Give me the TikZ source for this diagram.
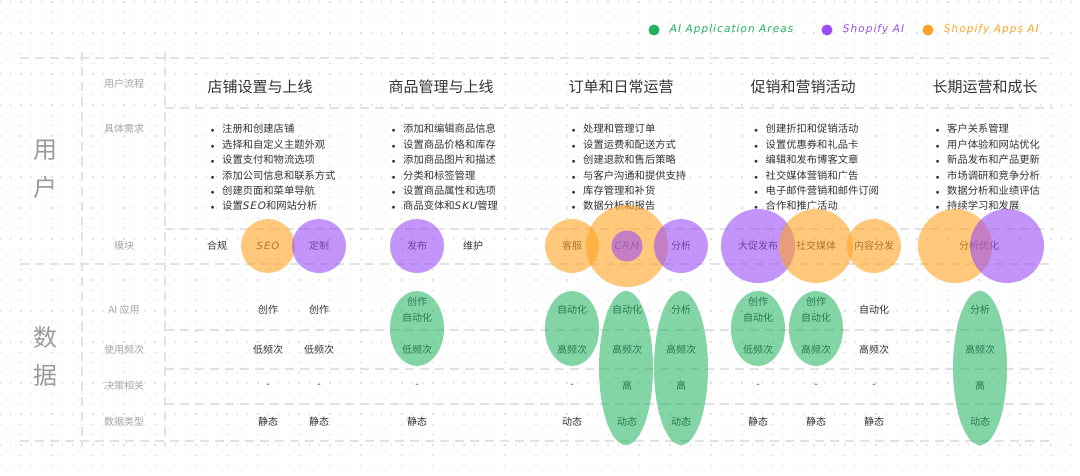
\documentclass[tikz,border=0pt]{standalone}
\usepackage{fontspec}
\setmainfont{Noto Sans CJK SC}
\newfontfamily\handfont[LetterSpace=10]{DejaVu Sans}
\usetikzlibrary{positioning,shapes.geometric}
\definecolor{DotGray}{RGB}{222,222,222}
\definecolor{GridGray}{RGB}{226,226,226}
\definecolor{LabelGray}{RGB}{165,165,165}
\definecolor{SideGray}{RGB}{155,155,155}
\definecolor{InkGray}{RGB}{51,51,51}
\definecolor{AppGreen}{RGB}{31,179,94}
\definecolor{ShopPurple}{RGB}{155,77,245}
\definecolor{AppsOrange}{RGB}{255,164,36}
\newcommand\bitem{\makebox[11.5pt][l]{$\scriptstyle\bullet$}}
\newcommand\hand[1]{{\handfont\itshape #1}}

\begin{document}
\begin{tikzpicture}[
	x=1pt,y=-1pt,
	dotrow/.style={draw=DotGray,line width=1.3pt,dash pattern=on 1.3pt off 9pt,dash phase=0.3pt},
	gridline/.style={draw=GridGray,line width=1.6pt,dash pattern=on 9pt off 6pt},
	rowlabel/.style={text=LabelGray,font=\fontsize{10}{12}\selectfont,inner sep=0pt},
	sidelabel/.style={text=SideGray,font=\fontsize{24}{38}\selectfont,align=center,inner sep=0pt},
	stage/.style={text=InkGray,font=\fontsize{15}{18}\selectfont,inner sep=0pt},
	needs/.style={text=InkGray,font=\fontsize{10.3}{15.4}\selectfont,align=left,anchor=north west,inner sep=0pt},
	cell/.style={text=InkGray,font=\fontsize{10}{16}\selectfont,align=center,inner sep=0pt},
	legend/.style={font=\fontsize{10.5}{12}\selectfont\handfont\itshape,inner sep=0pt},
	legenddot/.style={circle,minimum size=11pt,inner sep=0pt},
	shopify/.style={circle,fill=ShopPurple,fill opacity=.6,inner sep=0pt},
	apps/.style={circle,fill=AppsOrange,fill opacity=.6,inner sep=0pt},
	aiarea/.style={ellipse,fill=AppGreen,fill opacity=.55,inner sep=0pt,minimum width=54pt}
	]
				
				\useasboundingbox (0,0) rectangle (1080,475);
				\fill[white] (0,0) rectangle (1080,475);
				
				% dotted paper
				\foreach \j in {0,...,45}
				\draw[dotrow] (0,2+10.3*\j) -- (1080,2+10.3*\j);
				
				% table rulings
				\draw[gridline] (20,58) -- (1053,58);
				\draw[gridline] (165,108) -- (1053,108);
				\draw[gridline] (165,229) -- (1053,229);
				\draw[gridline] (20,264) -- (1053,264);
				\draw[gridline] (165,330) -- (1053,330);
				\draw[gridline] (165,369) -- (1053,369);
				\draw[gridline] (165,404) -- (1053,404);
				\draw[gridline] (20,441) -- (1053,441);
				\draw[gridline] (82,52) -- (82,447);
				\draw[gridline] (165,52) -- (165,447);
				
				% legend
				\node[legenddot,fill=AppGreen] (gdot) at (654,30) {};
				\node[legend,text=AppGreen,right=10pt of gdot] (gtext) {AI Application Areas};
				\node[legenddot,fill=ShopPurple] (pdot) at (827,30) {};
				\node[legend,text=ShopPurple,right=10pt of pdot] (ptext) {Shopify AI};
				\node[legenddot,fill=AppsOrange] (odot) at (928,30) {};
				\node[legend,text=AppsOrange,right=10pt of odot] (otext) {Shopify Apps AI};
				
				% side and row labels
				\node[sidelabel] (user) at (46,169) {用\\户};
				\node[sidelabel] (data) at (46,356) {数\\据};
				\node[rowlabel] (flow) at (124,84) {用户流程};
				\node[rowlabel] (need) at (124,129) {具体需求};
				\node[rowlabel] (module) at (124,246) {模块};
				\node[rowlabel] (aiuse) at (124,310) {AI 应用};
				\node[rowlabel] (freq) at (124,350) {使用频次};
				\node[rowlabel] (decide) at (124,386) {决策相关};
				\node[rowlabel] (dtype) at (124,422) {数据类型};
				
				% stages
				\node[stage] (s1) at (260,87) {店铺设置与上线};
				\node[stage] (s2) at (441,87) {商品管理与上线};
				\node[stage] (s3) at (621,87) {订单和日常运营};
				\node[stage] (s4) at (803,87) {促销和营销活动};
				\node[stage] (s5) at (985,87) {长期运营和成长};
				
				% needs
				\node[needs] (n1) at (210.5,124) {\bitem 注册和创建店铺\\\bitem 选择和自定义主题外观\\\bitem 设置支付和物流选项\\\bitem 添加公司信息和联系方式\\\bitem 创建页面和菜单导航\\\bitem 设置\hand{SEO}和网站分析};
				\node[needs] (n2) at (391.5,124) {\bitem 添加和编辑商品信息\\\bitem 设置商品价格和库存\\\bitem 添加商品图片和描述\\\bitem 分类和标签管理\\\bitem 设置商品属性和选项\\\bitem 商品变体和\hand{SKU}管理};
				\node[needs] (n3) at (571.5,124) {\bitem 处理和管理订单\\\bitem 设置运费和配送方式\\\bitem 创建退款和售后策略\\\bitem 与客户沟通和提供支持\\\bitem 库存管理和补货\\\bitem 数据分析和报告};
				\node[needs] (n4) at (754,124) {\bitem 创建折扣和促销活动\\\bitem 设置优惠券和礼品卡\\\bitem 编辑和发布博客文章\\\bitem 社交媒体营销和广告\\\bitem 电子邮件营销和邮件订阅\\\bitem 合作和推广活动};
				\node[needs] (n5) at (935.5,124) {\bitem 客户关系管理\\\bitem 用户体验和网站优化\\\bitem 新品发布和产品更新\\\bitem 市场调研和竞争分析\\\bitem 数据分析和业绩评估\\\bitem 持续学习和发展};
				
				% modules
				\node[cell] (comply) at (217,246) {合规};
				\node[cell] (seo) at (268,246) {\hand{SEO}};
				\node[cell] (custom) at (319,246) {定制};
				\node[cell] (publish) at (417,246) {发布};
				\node[cell] (maintain) at (473,246) {维护};
				\node[cell] (service) at (572,246) {客服};
				\node[cell] (crm) at (627,246) {\hand{CRM}};
				\node[cell] (analyse) at (681,246) {分析};
				\node[cell] (promo) at (758,246) {大促发布};
				\node[cell] (social) at (816,246) {社交媒体};
				\node[cell] (content) at (874,246) {内容分发};
				\node[cell] (optimise) at (979,246) {分析优化};
				
				% data rows
				\foreach \x/\t [count=\k] in {268/创作,319/创作,417/创作\\自动化,572/自动化,627/自动化,681/分析,758/创作\\自动化,816/创作\\自动化,874/自动化,980/分析}
				\node[cell] (use\k) at (\x,310) {\t};
				\foreach \x/\t [count=\k] in {268/低频次,319/低频次,417/低频次,572/高频次,627/高频次,681/高频次,758/低频次,816/高频次,874/高频次,980/高频次}
				\node[cell] (fr\k) at (\x,350) {\t};
				\foreach \x/\t [count=\k] in {268/-,319/-,417/-,572/-,627/高,681/高,758/-,816/-,874/-,980/高}
				\node[cell] (dc\k) at (\x,386) {\t};
				\foreach \x/\t [count=\k] in {268/静态,319/静态,417/静态,572/动态,627/动态,681/动态,758/静态,816/静态,874/静态,980/动态}
				\node[cell] (dt\k) at (\x,422) {\t};
				
				% AI circles over the modules
				\node[apps,minimum size=54pt] (c-seo) at (seo) {};
				\node[shopify,minimum size=54pt] (c-custom) at (custom) {};
				\node[shopify,minimum size=54pt] (c-publish) at (publish) {};
				\node[apps,minimum size=54pt] (c-service) at (service) {};
				\node[apps,minimum size=82pt] (c-crm) at (crm) {};
				\node[shopify,minimum size=54pt] (c-analyse) at (analyse) {};
				\node[shopify,minimum size=31pt] (c-crmcore) at (crm) {};
				\node[shopify,minimum size=74pt] (c-promo) at (promo) {};
				\node[apps,minimum size=74pt] (c-social) at (social) {};
				\node[apps,minimum size=54pt] (c-content) at (content) {};
				\node[apps,minimum size=74pt] (c-opt-a) at (955,246) {};
				\node[shopify,minimum size=74pt] (c-opt-s) at (1007,246) {};
				
				% AI application areas
				\node[aiarea,minimum height=75pt] (a-publish) at (417,328.5) {};
				\node[aiarea,minimum height=75pt] (a-service) at (572,328.5) {};
				\node[aiarea,minimum height=154pt] (a-crm) at (626,368) {};
				\node[aiarea,minimum height=154pt] (a-analyse) at (681,368) {};
				\node[aiarea,minimum height=75pt] (a-promo) at (758,328.5) {};
				\node[aiarea,minimum height=75pt] (a-social) at (816,328.5) {};
				\node[aiarea,minimum height=154pt] (a-optimise) at (980,368) {};
				
			\end{tikzpicture}
\end{document}
